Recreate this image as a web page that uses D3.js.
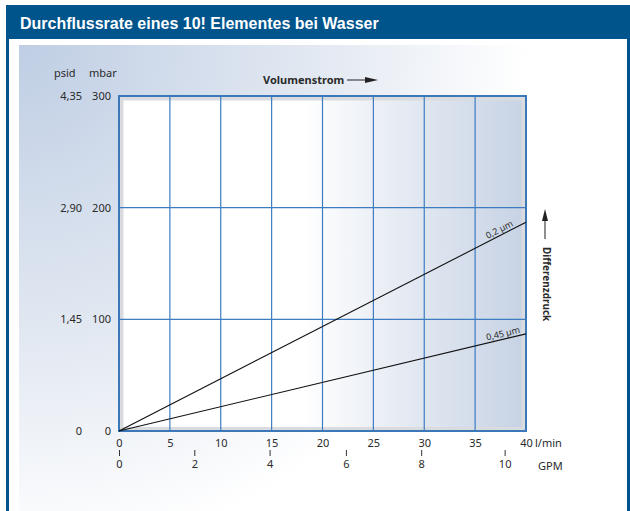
<!DOCTYPE html>
<html lang="de">
<head>
<meta charset="UTF-8">
<title>Durchflussrate eines 10! Elementes bei Wasser</title>
<script src="https://cdn.jsdelivr.net/npm/d3@7"></script>
<style>
  body { margin: 0; background: #fff; }
  text { font-family: "Noto Sans", "Open Sans", sans-serif; fill: #2a2a2a; }
</style>
</head>
<body>
<script>
    // Daten
    var flowTicks = [0, 5, 10, 15, 20, 25, 30, 35, 40];     // l/min
    var mbarTicks = [0, 100, 200, 300];
    var psidLabels = ["0", "1,45", "2,90", "4,35"];
    var gpmTicks = [0, 2, 4, 6, 8, 10];
    var gpmAtLmin = [0, 7.4, 14.8, 22.3, 29.7, 37.9];       // Lage der GPM-Striche in l/min
    var flowPoints = [0, 40];
    var mbar02 = [0, 187];     // 0,2 µm
    var mbar045 = [0, 87];     // 0,45 µm
    var seriesNames = ["0,2 µm", "0,45 µm"];

    var width = 630, height = 511;
    var svg = d3.select("body").append("svg")
            .attr("width", width)
            .attr("height", height);

    var x = d3.scaleLinear().domain([0, 40]).range([119, 526]);
    var y = d3.scaleLinear().domain([0, 300]).range([431, 96]);
    var xGpm = d3.scaleLinear().domain(gpmTicks).range(gpmAtLmin.map(x));

    var defs = svg.append("defs");
    var bg = defs.append("radialGradient").attr("id", "bg")
            .attr("gradientUnits", "userSpaceOnUse")
            .attr("cx", 19).attr("cy", 45).attr("r", 600);
    bg.append("stop").attr("offset", 0).attr("stop-color", "#bfcee4");
    bg.append("stop").attr("offset", 0.5).attr("stop-color", "#e3e9f2");
    bg.append("stop").attr("offset", 0.85).attr("stop-color", "#ffffff");

    var plotBg = defs.append("linearGradient").attr("id", "plotBg")
            .attr("x1", 0).attr("x2", 1).attr("y1", 0).attr("y2", 0);
    plotBg.append("stop").attr("offset", 0).attr("stop-color", "#ffffff");
    plotBg.append("stop").attr("offset", 0.45).attr("stop-color", "#ffffff");
    plotBg.append("stop").attr("offset", 1).attr("stop-color", "#c6d2e4");

    // Rahmen und Titelleiste
    svg.append("rect").attr("x", 7.5).attr("y", 6.5).attr("width", 621).attr("height", 600)
            .attr("fill", "#fff").attr("stroke", "#00548c").attr("stroke-width", 3);
    svg.append("rect").attr("x", 6).attr("y", 5).attr("width", 624).attr("height", 34)
            .attr("fill", "#00548c");
    svg.append("text").attr("x", 20).attr("y", 28.5)
            .style("font-family", "'Liberation Sans', Arial, sans-serif")
            .style("font-weight", "bold").style("font-size", "16px").style("fill", "#fff")
            .text("Durchflussrate eines 10! Elementes bei Wasser");

    svg.append("rect").attr("x", 19).attr("y", 45).attr("width", 605).attr("height", 480)
            .attr("fill", "url(#bg)");

    // Diagrammfläche
    svg.append("rect").attr("x", x(0)).attr("y", y(300))
            .attr("width", x(40) - x(0)).attr("height", y(0) - y(300))
            .attr("fill", "url(#plotBg)");
    svg.append("rect").attr("x", x(0) + 2.5).attr("y", y(300) + 2.5)
            .attr("width", x(40) - x(0) - 5).attr("height", y(0) - y(300) - 4.5)
            .attr("fill", "none").attr("stroke", "#d9dbde").attr("stroke-width", 4);

    svg.append("g").selectAll("line")
            .data(flowTicks.slice(1, -1))
            .enter().append("line")
            .attr("x1", function (d) { return x(d); })
            .attr("x2", function (d) { return x(d); })
            .attr("y1", y(300)).attr("y2", y(0))
            .attr("stroke", "#3d7cc0").attr("stroke-width", 1.2);
    svg.append("g").selectAll("line")
            .data(mbarTicks.slice(1, -1))
            .enter().append("line")
            .attr("y1", function (d) { return y(d); })
            .attr("y2", function (d) { return y(d); })
            .attr("x1", x(0)).attr("x2", x(40))
            .attr("stroke", "#3d7cc0").attr("stroke-width", 1.2);

    svg.append("rect").attr("x", x(0)).attr("y", y(300))
            .attr("width", x(40) - x(0)).attr("height", y(0) - y(300))
            .attr("fill", "none").attr("stroke", "#3b78ba").attr("stroke-width", 2);

    // Kennlinien
    var line = d3.line()
            .x(function (d) { return x(d[0]); })
            .y(function (d) { return y(d[1]); });
    var series = [mbar02, mbar045];
    series.forEach(function (vals, i) {
        var pts = flowPoints.map(function (f, j) { return [f, vals[j]]; });
        svg.append("path").datum(pts)
                .attr("d", line)
                .attr("fill", "none").attr("stroke", "#111").attr("stroke-width", 1.1);
        var ang = Math.atan2(y(vals[1]) - y(vals[0]), x(flowPoints[1]) - x(flowPoints[0])) * 180 / Math.PI;
        var fx = i === 0 ? 38.9 : 39.5;
        var fy = vals[0] + (vals[1] - vals[0]) * (fx - flowPoints[0]) / (flowPoints[1] - flowPoints[0]);
        svg.append("text")
                .attr("transform", "translate(" + x(fx) + "," + y(fy) + ") rotate(" + ang + ")")
                .attr("dy", -2.5)
                .attr("text-anchor", "end")
                .style("font-size", "9px")
                .text(seriesNames[i]);
    });

    // Achsen
    var axFlow = svg.append("g").attr("transform", "translate(0," + y(0) + ")")
            .call(d3.axisBottom(x).tickValues(flowTicks).tickSize(0).tickPadding(8));
    var axGpm = svg.append("g").attr("transform", "translate(0,450)")
            .call(d3.axisBottom(xGpm).tickValues(gpmTicks).tickSize(6).tickPadding(4)
                    .tickFormat(d3.format("d")));
    var axMbar = svg.append("g").attr("transform", "translate(" + x(0) + ",0)")
            .call(d3.axisLeft(y).tickValues(mbarTicks).tickSize(0).tickPadding(8));
    var axPsid = svg.append("g").attr("transform", "translate(" + x(0) + ",0)")
            .call(d3.axisLeft(y).tickValues(mbarTicks).tickSize(0).tickPadding(37)
                    .tickFormat(function (d, i) { return psidLabels[i]; }));
    [axFlow, axGpm, axMbar, axPsid].forEach(function (g) {
        g.select(".domain").remove();
        g.selectAll("text").attr("fill", null)
                .style("font-family", "'Noto Sans', sans-serif").style("font-size", "11px");
        g.selectAll("line").attr("stroke", "#333");
    });

    svg.append("text").attr("x", 535).attr("y", 447).style("font-size", "11px").text("l/min");
    svg.append("text").attr("x", 538).attr("y", 470).style("font-size", "11px").text("GPM");
    svg.append("text").attr("x", 54).attr("y", 77).style("font-size", "11px").text("psid");
    svg.append("text").attr("x", 89).attr("y", 77).style("font-size", "11px").text("mbar");

    svg.append("text").attr("x", 263).attr("y", 84)
            .style("font-size", "11px").style("font-weight", "bold")
            .text("Volumenstrom");
    svg.append("line").attr("x1", 347).attr("x2", 368).attr("y1", 80).attr("y2", 80)
            .attr("stroke", "#222").attr("stroke-width", 1);
    svg.append("path").attr("d", "M365,77L378,80L365,83Z").attr("fill", "#222");

    svg.append("text")
            .attr("transform", "translate(546,247) rotate(90)")
            .attr("dy", "0.35em")
            .style("font-size", "10px").style("font-weight", "bold")
            .text("Differenzdruck");
    svg.append("line").attr("x1", 545).attr("x2", 545).attr("y1", 239).attr("y2", 218)
            .attr("stroke", "#444").attr("stroke-width", 1.2);
    svg.append("path").attr("d", "M542,221L545,209L548,221Z").attr("fill", "#222");
</script>
</body>
</html>
